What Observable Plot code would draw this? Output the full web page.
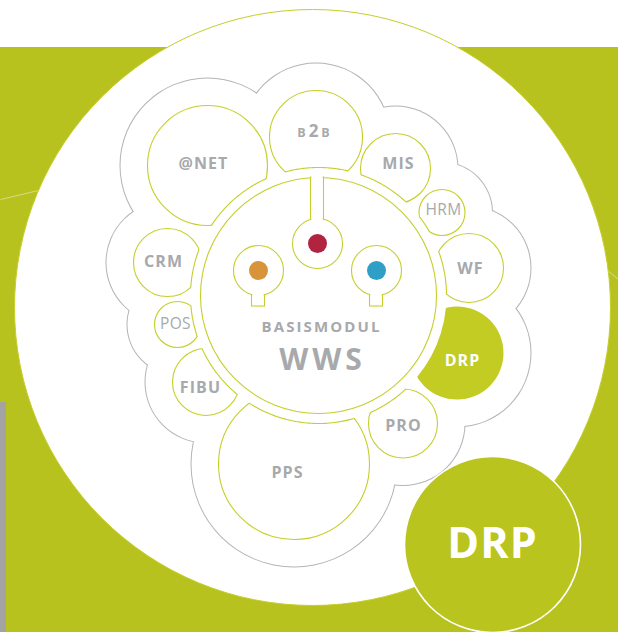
<!DOCTYPE html>
<html><head><meta charset="utf-8">
<script src="https://cdn.jsdelivr.net/npm/d3@7"></script>
<script src="https://cdn.jsdelivr.net/npm/@observablehq/plot@0.6"></script>
<style>
html,body{margin:0;padding:0;background:#fff;}
#chart svg{display:block;}
</style></head><body><div id="chart"></div>
<script>
// modules around the core (centre x/y, radius, label position)
const moduleNames = ["@NET","B2B","MIS","HRM","WF","DRP","PRO","PPS","FIBU","POS","CRM"];
const moduleX = [207,315.5,395,441.5,468.5,456.5,402.5,293.5,205.5,177,167];
const moduleY = [165,136.5,168,212,267.5,352.5,423,463.5,381.5,324,262];
const moduleR = [60,46.5,35,23,34.5,46.5,34.5,75.5,33.5,23,34];
const labelX = [203,313,398,443,470,462,403,287,200,175,163];
const labelY = [163,130,163,210,268,360,425,472,387,324,261];
const regularLabels = ["HRM","POS"];
const highlighted = "DRP";

// core module
const coreX = 318, coreY = 295, coreR = 118, ringR = 128;
const coreTitle = "BASISMODUL", coreName = "WWS";
const coreTitleY = 327, coreNameY = 360;

// coloured dots inside the core
const dotColors = ["#d8943a","#b2233f","#2f9fc6"];
const dotX = [258,317,376];
const dotY = [270,243,270];
const stemEndY = [306,177,306];

// big badge
const badgeX = [492], badgeY = [544], badgeR = [88], badgeText = ["DRP"];

// backdrop
const discX = 312, discY = 307, discR = 298;
const bandY = 47;
const cloudPad = 27;

const green = "#b8c21e", lime = "#c6cf2a", grey = "#a7a9ac", cloudGrey = "#b4b4b4";

const modules = moduleNames.map((name,i)=>({name,x:moduleX[i],y:moduleY[i],r:moduleR[i],lx:labelX[i],ly:labelY[i]}));
const arcs = [];
modules.forEach(m=>{
  if (m.name===highlighted) return;
  const dx=m.x-coreX, dy=m.y-coreY, d=Math.hypot(dx,dy);
  if (d-m.r>=ringR) return;
  const a=Math.acos((d*d+ringR*ringR-m.r*m.r)/(2*d*ringR));
  const t0=Math.atan2(dy,dx);
  for(let k=0;k<=48;k++){const t=t0-a+2*a*k/48;arcs.push({name:m.name,x:coreX+ringR*Math.cos(t),y:coreY+ringR*Math.sin(t)});}
});
const keys = dotColors.map((c,i)=>({color:c,x:dotX[i],y:dotY[i],end:stemEndY[i]}));
const badges = badgeText.map((t,i)=>({t,x:badgeX[i],y:badgeY[i],r:badgeR[i]}));
const b2b = modules.find(m=>m.name==="B2B");
const b2bParts = [{t:"B",x:b2b.lx-12,s:12.5},{t:"2",x:b2b.lx,s:17},{t:"B",x:b2b.lx+12,s:12.5}];
const boldLabels = modules.filter(m=>m.name!=="B2B" && !regularLabels.includes(m.name));
const thinLabels = modules.filter(m=>regularLabels.includes(m.name));

// letter spacing per text (typographic style)
const spacing = {"BASISMODUL":2.1, "WWS":4, "HRM":0.3, "POS":0.3, "B":0, "2":0};
const defaultSpacing = 1.1;
const badgeSpacing = 2;

const font = "'Open Sans', sans-serif";
const chart = Plot.plot({
  width:618, height:632, margin:0,
  x:{type:"identity",axis:null}, y:{type:"identity",axis:null}, r:{type:"identity"},
  style:{background:green, fontFamily:font},
  marks:[
    Plot.rect([0],{x1:()=>0,x2:()=>618,y1:()=>0,y2:()=>bandY,fill:"white"}),
    Plot.rect([0],{x1:()=>0,x2:()=>6,y1:()=>402,y2:()=>632,fill:"#a3a3a1"}),
    Plot.link([{a:[0,199],b:[38,190]},{a:[607,270],b:[618,279]}],{x1:d=>d.a[0],y1:d=>d.a[1],x2:d=>d.b[0],y2:d=>d.b[1],stroke:"#d6db8c",strokeWidth:1}),
    Plot.dot([0],{x:()=>discX,y:()=>discY,r:()=>discR,fill:"white",stroke:lime,strokeWidth:1}),
    // cloud outline
    Plot.dot(modules,{x:"x",y:"y",r:d=>d.r+cloudPad+1,fill:cloudGrey}),
    Plot.dot(modules,{x:"x",y:"y",r:d=>d.r+cloudPad,fill:"white"}),
    Plot.dot([0],{x:()=>coreX,y:()=>coreY,r:()=>ringR+20,fill:"white"}),
    // modules
    Plot.dot(modules,{x:"x",y:"y",r:"r",fill:d=>d.name===highlighted?"#c3cc22":"white",stroke:d=>d.name===highlighted?"none":lime,strokeWidth:1.1}),
    Plot.dot([0],{x:()=>coreX,y:()=>coreY,r:()=>ringR,fill:"white"}),
    Plot.line(arcs,{x:"x",y:"y",z:"name",stroke:lime,strokeWidth:1.1}),
    Plot.dot([0],{x:()=>coreX,y:()=>coreY,r:()=>coreR,fill:"white",stroke:lime,strokeWidth:1.1}),
    // keyholes
    Plot.rect(keys,{x1:d=>d.x-6.5,x2:d=>d.x+6.5,y1:d=>Math.min(d.y,d.end),y2:d=>Math.max(d.y,d.end),fill:"white",stroke:lime,strokeWidth:1.1}),
    Plot.dot(keys,{x:"x",y:"y",r:()=>25,fill:"white",stroke:lime,strokeWidth:1.1}),
    Plot.rect(keys,{x1:d=>d.x-5.6,x2:d=>d.x+5.6,y1:d=>d.end>d.y?d.y:d.end-2,y2:d=>d.end>d.y?d.y+28:d.y,fill:"white"}),
    Plot.dot(keys,{x:"x",y:"y",r:()=>9.5,fill:"color"}),
    // labels
    Plot.text(boldLabels,{x:"lx",y:"ly",text:"name",fill:d=>d.name===highlighted?"white":grey,fontSize:16,fontWeight:700}),
    Plot.text(thinLabels,{x:"lx",y:"ly",text:"name",fill:grey,fontSize:15.5,fontWeight:400}),
    Plot.text(b2bParts,{x:"x",y:()=>b2b.ly,text:"t",fill:grey,fontSize:d=>d.s,fontWeight:700,lineAnchor:"bottom",dy:6}),
    Plot.text([coreTitle],{x:()=>coreX+3,y:()=>coreTitleY,text:d=>d,fill:grey,fontSize:15,fontWeight:700}),
    Plot.text([coreName],{x:()=>coreX+4,y:()=>coreNameY,text:d=>d,fill:grey,fontSize:30,fontWeight:700}),
    // badge
    Plot.dot(badges,{x:"x",y:"y",r:"r",fill:"#bac41f",stroke:"white",strokeWidth:1.6}),
    Plot.text(badges,{x:"x",y:"y",text:"t",fill:"white",fontSize:43,fontWeight:700,className:"badge-text"})
  ]
});
d3.select(chart).selectAll("text").each(function(){
  const t = this.textContent;
  const big = +getComputedStyle(this).fontSize.replace("px","") > 40 || (this.getAttribute("font-size")==="43");
  const s = big ? badgeSpacing : (t in spacing ? spacing[t] : defaultSpacing);
  this.style.letterSpacing = s + "px";
});
document.getElementById("chart").append(chart);
</script></body></html>
